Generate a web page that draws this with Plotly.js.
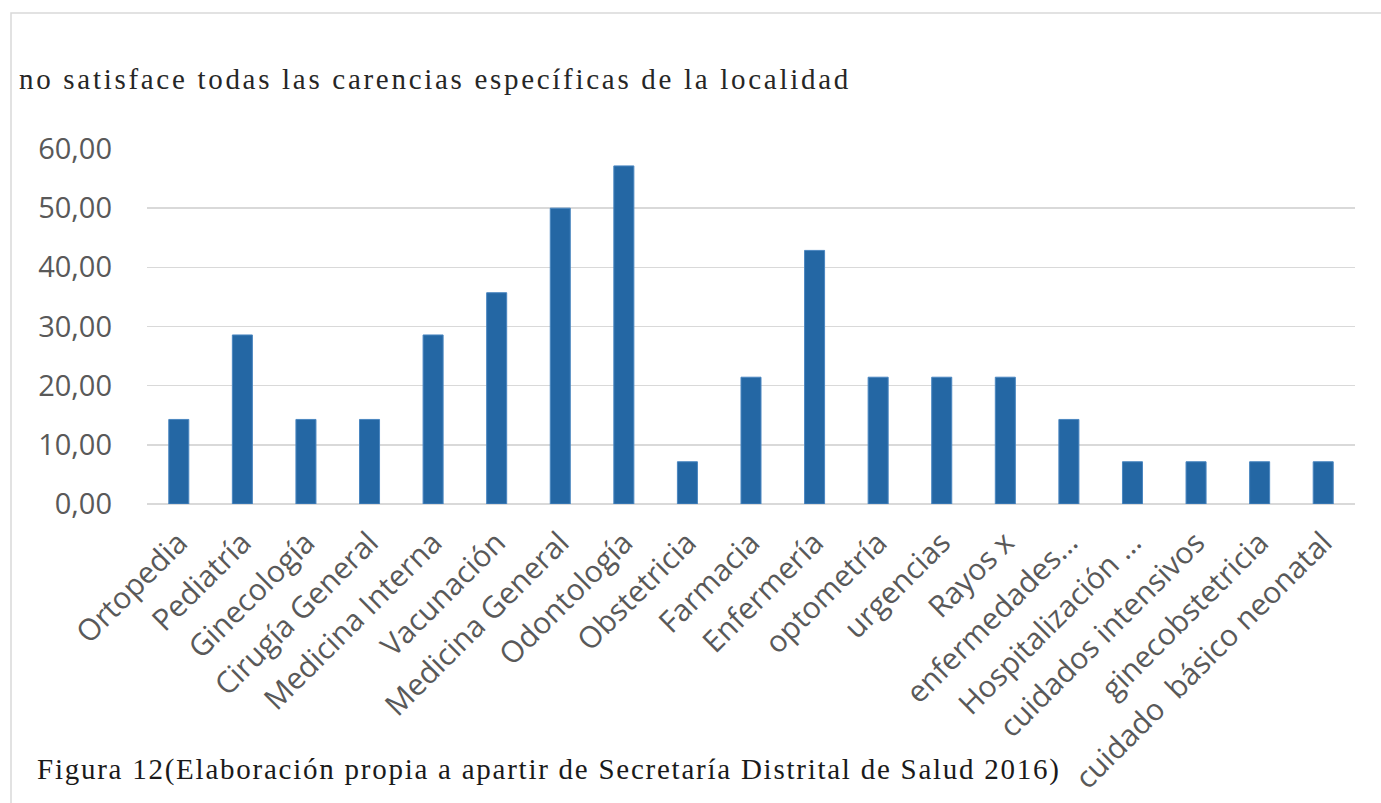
<!DOCTYPE html>
<html>
<head>
<meta charset="utf-8">
<script src="https://cdn.plot.ly/plotly-3.0.1.min.js"></script>
<style>
html,body{margin:0;padding:0;background:#fff;overflow:hidden;}
#chart{width:1381px;height:803px;}
</style>
</head>
<body>
<div id="chart"></div>
<script>
var categories = ["Ortopedia","Pediatría","Ginecología","Cirugía General","Medicina Interna","Vacunación","Medicina General","Odontología","Obstetricia","Farmacia","Enfermería","optometría","urgencias","Rayos x","enfermedades…","Hospitalización …","cuidados intensivos","ginecobstetricia","cuidado  básico neonatal"];
var values = [14.29,28.57,14.29,14.29,28.57,35.71,50.00,57.14,7.14,21.43,42.86,21.43,21.43,21.43,14.29,7.14,7.14,7.14,7.14];
var yTicks = [0,10,20,30,40,50,60];
var titleText = "no satisface todas las carencias específicas de la localidad";
var captionText = "Figura 12(Elaboración propia a apartir de Secretaría Distrital de Salud 2016)";

var L=147, R=1355, T=149, B=504;
function px(x){return (x-L)/(R-L);}
function py(y){return (B-y)/(B-T);}

var trace = {
  type:'bar', x:categories, y:values,
  marker:{color:'#2467A4', line:{color:'#4a86c0', width:1}},
  hoverinfo:'x+y'
};
var layout = {
  width:1381, height:803,
  margin:{l:L, r:1381-R, t:T, b:803-B},
  paper_bgcolor:'#fff', plot_bgcolor:'#fff',
  separators:',.',
  bargap:0.685,
  showlegend:false,
  font:{family:'"Open Sans", sans-serif', color:'#595959'},
  xaxis:{
    tickangle:-45, tickfont:{size:30, color:'#595959', family:'"Open Sans", sans-serif'},
    showgrid:false, showline:false, zeroline:false, ticks:'', ticklabelstandoff:14
  },
  yaxis:{
    range:[0,60], tickvals:yTicks, tickformat:'.2f',
    tickfont:{size:29, color:'#595959', family:'"Open Sans", sans-serif'},
    gridcolor:'#d9d9d9', gridwidth:1.5, zeroline:true, zerolinecolor:'#d9d9d9', zerolinewidth:2,
    showline:false, ticks:'', ticklabelstandoff:34
  },
  shapes:[{type:'rect', xref:'paper', yref:'paper', x0:px(11), x1:px(1500), y0:py(900), y1:py(13),
    line:{color:'#d9d9d9', width:1.5}, fillcolor:'rgba(0,0,0,0)', layer:'below'}],
  annotations:[
    {xref:'paper', yref:'paper', x:px(17), y:py(79), xanchor:'left', yanchor:'middle', showarrow:false,
     text:'<span style="letter-spacing:2.7px">'+titleText+'</span>',
     font:{family:'"Liberation Serif", "Times New Roman", serif', size:29, color:'#262626'}},
    {xref:'paper', yref:'paper', x:px(35), y:py(769), xanchor:'left', yanchor:'middle', showarrow:false,
     text:'<span style="letter-spacing:1.75px">'+captionText+'</span>',
     font:{family:'"Liberation Serif", "Times New Roman", serif', size:29, color:'#1a1a1a'}}
  ]
};
Plotly.newPlot('chart',[trace],layout,{displayModeBar:false, staticPlot:true});
</script>
</body>
</html>
